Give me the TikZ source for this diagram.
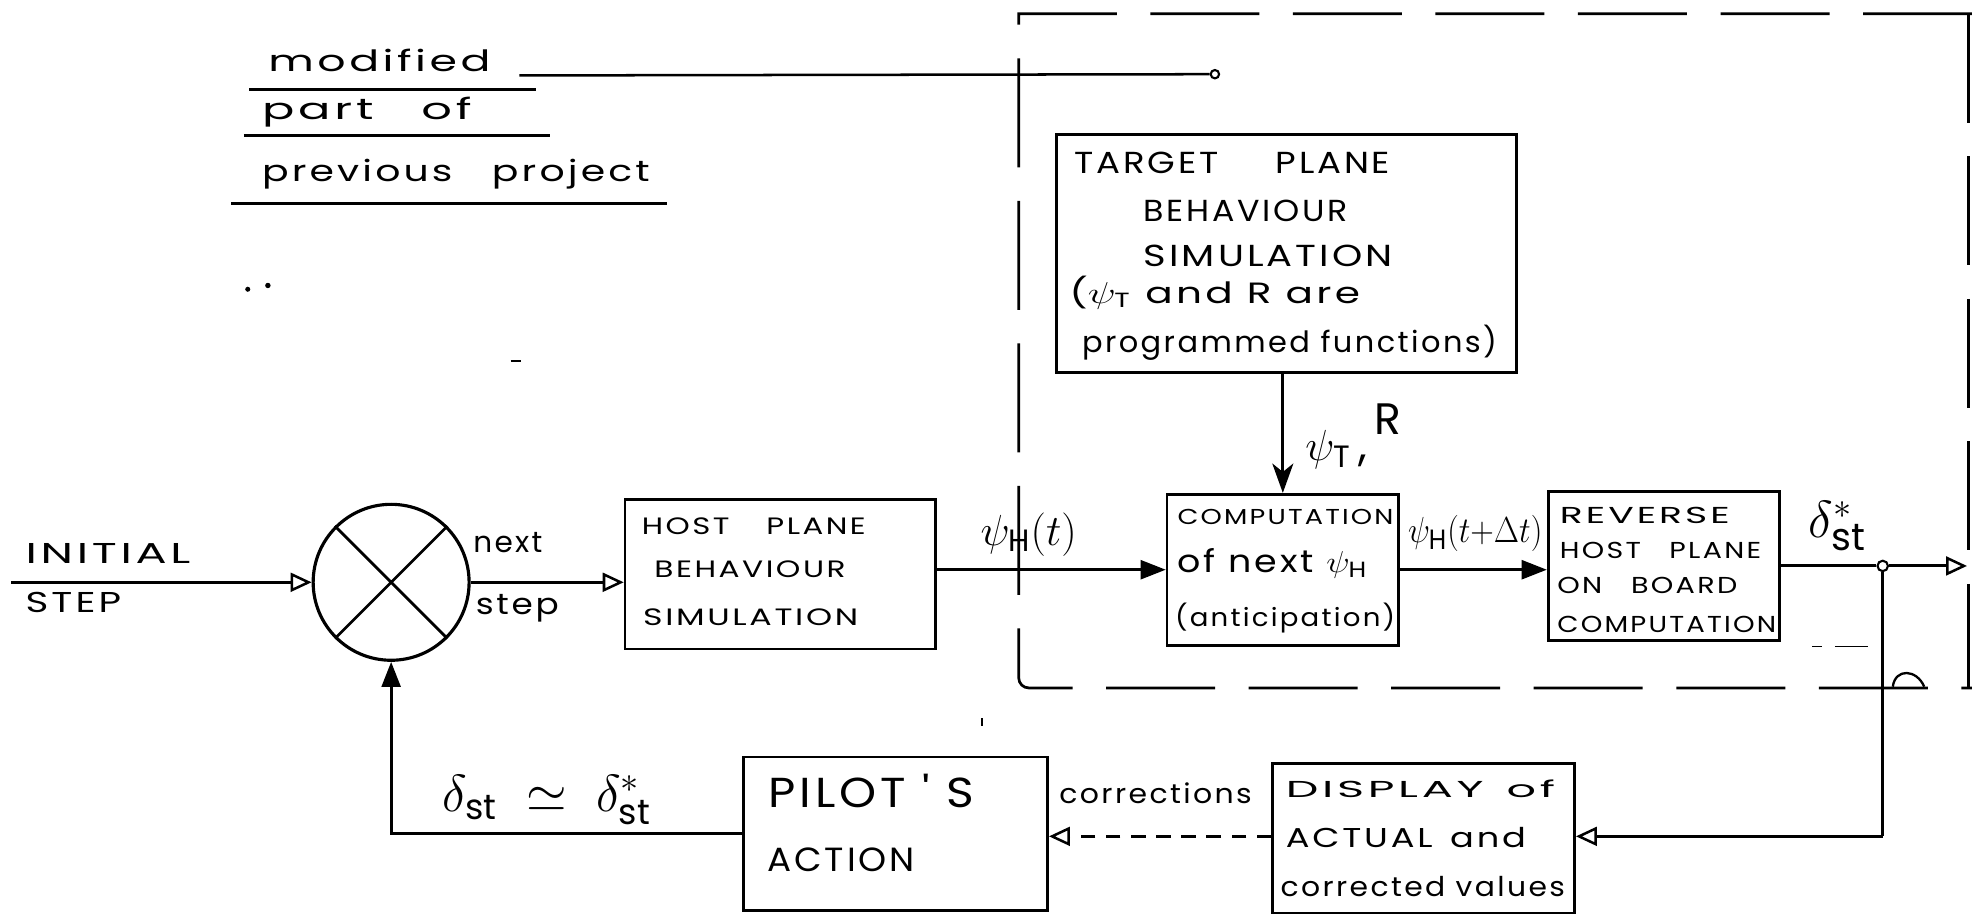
\documentclass[tikz,border=0pt]{standalone}
\usepackage{fontspec}
\usepackage{graphicx}
\setmainfont{Poppins}
\newfontfamily\hand[LetterSpace=8]{Poppins}
\usetikzlibrary{arrows.meta}
\newcommand\hw[2]{\resizebox{#1pt}{\height}{#2}}
\begin{document}
\begin{tikzpicture}[x=0.6pt,y=-0.6pt,
  box/.style={draw, line width=1.3pt, inner sep=0pt},
  txt/.style={inner sep=0pt, anchor=base west},
  fs/.style={font=\hand\fontsize{#1}{#1}\selectfont},
  mth/.style={inner sep=0pt, font=\fontsize{#1}{#1}\selectfont},
  conn/.style={line width=1.4pt},
  oarrow/.style={conn, -{Triangle[open,length=10pt,width=9pt,line width=1.2pt]}},
  farrow/.style={conn, -{Triangle[length=12pt,width=9pt]}},
  vtip/.style={conn, -{Stealth[length=14pt,width=10pt,inset=4pt]}},
  bound/.style={line width=1.3pt, dash pattern=on 52pt off 16pt},
  rule/.style={line width=1.3pt},
]
\useasboundingbox (0,0) rectangle (1568,732);

% dashed boundary of the modified part
\draw[bound] (1568,11) -- (810,11) -- (810,539) to[out=-90,in=180] (818,547) -- (1568,547);
\draw[bound] (1565,11) -- (1565,547);

% legend
\node[txt, fs=14] (lg1) at (213,57) {\hw{106}{modified}};
\node[txt, fs=14] (lg2) at (208,95) {\hw{100}{part\quad of}};
\node[txt, fs=14] (lg3) at (208,144) {\hw{185}{previous\quad project}};
\draw[rule] (198,71) -- (426,71);
\draw[rule] (194,108) -- (437,108);
\draw[rule] (184,162) -- (530,162);
\node[circle, draw, line width=1pt, inner sep=0pt, minimum size=4pt] (lgend) at (966,59) {};
\coordinate (lgstart) at (413,60);
\draw[line width=1.2pt] (lgstart) -- (lgend.west);

% boxes
\node[box, minimum width=219.6pt, minimum height=113.4pt] (target) at (1023,201.5) {};
\node[box, minimum width=110.4pt, minimum height=72pt] (comp) at (1020,453) {};
\node[box, minimum width=110.4pt, minimum height=70.8pt] (rev) at (1323,450) {};
\node[box, minimum width=148.2pt, minimum height=71.4pt] (host) at (620.5,456.5) {};
\node[box, minimum width=144pt, minimum height=71.4pt] (disp) at (1132,666.5) {};
\node[box, minimum width=145.2pt, minimum height=73.2pt] (pilot) at (712,663) {};
\node[draw, circle, line width=1.5pt, minimum size=74.4pt, inner sep=0pt] (sum) at (311,463) {};
\draw[line width=1.3pt] (sum.north west) -- (sum.south east) (sum.north east) -- (sum.south west);

% box texts
\node[txt, fs=14.5] (tg1) at (854,138) {\hw{150.6}{TARGET\hspace{1.6em}PLANE}};
\node[txt, fs=14.5] (tg2) at (909,176) {\hw{97.2}{BEHAVIOUR}};
\node[txt, fs=14.5] (tg3) at (909,212) {\hw{118.8}{SIMULATION}};
\node[txt, fs=14] (tg4) at (850,241) {\hw{138.6}{($\psi_{\mathrm{T}}$ and R are}};
\node[txt, fs=14] (tg5) at (860,280) {\hw{198}{programmed functions)}};

\node[txt, fs=11.3] (hs1) at (510,425) {\hw{106.8}{HOST\hspace{1.2em}PLANE}};
\node[txt, fs=11.3] (hs2) at (520,459) {\hw{91.2}{BEHAVIOUR}};
\node[txt, fs=11.3] (hs3) at (511,497) {\hw{102.6}{SIMULATION}};

\node[txt, fs=10.3] (cp1) at (936,417) {\hw{103}{COMPUTATION}};
\node[txt, fs=15] (cp2) at (936,455) {\hw{90.6}{of next $\psi_{\mathrm{H}}$}};
\node[txt, fs=12] (cp3) at (934,498) {\hw{105}{(anticipation)}};

\node[txt, fs=11] (rv1) at (1240,416) {\hw{81}{REVERSE}};
\node[txt, fs=11] (rv2) at (1240,444) {\hw{96}{HOST\hspace{1em}PLANE}};
\node[txt, fs=11] (rv3) at (1238,472) {\hw{85.8}{ON\hspace{1em}BOARD}};
\node[txt, fs=11] (rv4) at (1238,503) {\hw{104.4}{COMPUTATION}};

\node[txt, fs=11] (dp1) at (1022,634) {\hw{128.4}{DISPLAY\enspace of}};
\node[txt, fs=13] (dp2) at (1022,674) {\hw{114.6}{ACTUAL\enspace and}};
\node[txt, fs=13] (dp3) at (1018,713) {\hw{135.6}{corrected values}};

\node[txt, fs=20] (pl1) at (611,642) {\hw{97.8}{PILOT\hspace{0.35em}'\hspace{0.35em}S}};
\node[txt, fs=16] (pl2) at (610,693) {\hw{70.2}{ACTION}};

% labels
\node[txt, fs=13.7] (lbinit) at (20,448) {\hw{78.6}{INITIAL}};
\node[txt, fs=13.7] (lbstep) at (20,487) {\hw{45.6}{STEP}};
\node[txt, fs=14] (lbnext) at (376,439) {\hw{33}{next}};
\node[txt, fs=14] (lbstep2) at (378,489) {\hw{39.6}{step}};
\node[txt, fs=13] (lbcorr) at (842,639) {\hw{91.8}{corrections}};

\node[mth=21] (lbpsih) at (818,425) {$\psi_{\mathrm{H}}(t)$};
\node[mth=19] (lbpsihd) at (1173,424) {\hw{64}{$\psi_{\mathrm{H}}(t{+}\Delta t)$}};
\node[mth=21] (lbpsit) at (1076,347) {$\psi_{\mathrm{T}}$\,,\,\raisebox{1.1ex}{$\mathrm{R}$}};
\node[mth=26] (lbdstar) at (1461,418) {$\delta^{*}_{\mathrm{st}}$};
\node[mth=24] (lbdapprox) at (435,636) {$\delta_{\mathrm{st}}\;\simeq\;\delta^{*}_{\mathrm{st}}$};

% connectors
\coordinate (init) at (9,463);
\node[circle, draw, fill=white, line width=1pt, inner sep=0pt, minimum size=5pt] (jdot) at (1497,450) {};
\coordinate (outend) at (1564,450);
\coordinate (fb) at (1497,665);
\draw[oarrow] (init) -- (sum.west);
\draw[oarrow] (sum.east) -- (sum.east -| host.west);
\draw[farrow] (comp.west -| host.east) -- (comp.west);
\draw[farrow] (comp.east) -- (comp.east -| rev.west);
\draw[vtip] (comp.north |- target.south) -- (comp.north);
\draw[conn] (rev.east) -- (jdot);
\draw[oarrow] (jdot) -- (outend);
\draw[conn] (jdot) -- (fb);
\draw[oarrow] (fb) -- (fb -| disp.east);
\draw[oarrow, dash pattern=on 7pt off 5pt] (disp.west |- fb) -- (pilot.east |- fb);
\draw[farrow] (pilot.west) -| (sum.south);

% small marks
\draw[line width=1.1pt] (1505,546) .. controls (1507,531) and (1524,532) .. (1530,546);
\draw[line width=0.8pt] (1441,514) -- (1449,514) (1459,514) -- (1485,514);
\fill (197,230) circle (1.2pt);
\fill (213,227) circle (1.3pt);
\draw[line width=1pt] (406,287) -- (414,287);
\draw[line width=0.8pt] (781,571) -- (781,577);
\end{tikzpicture}
\end{document}
